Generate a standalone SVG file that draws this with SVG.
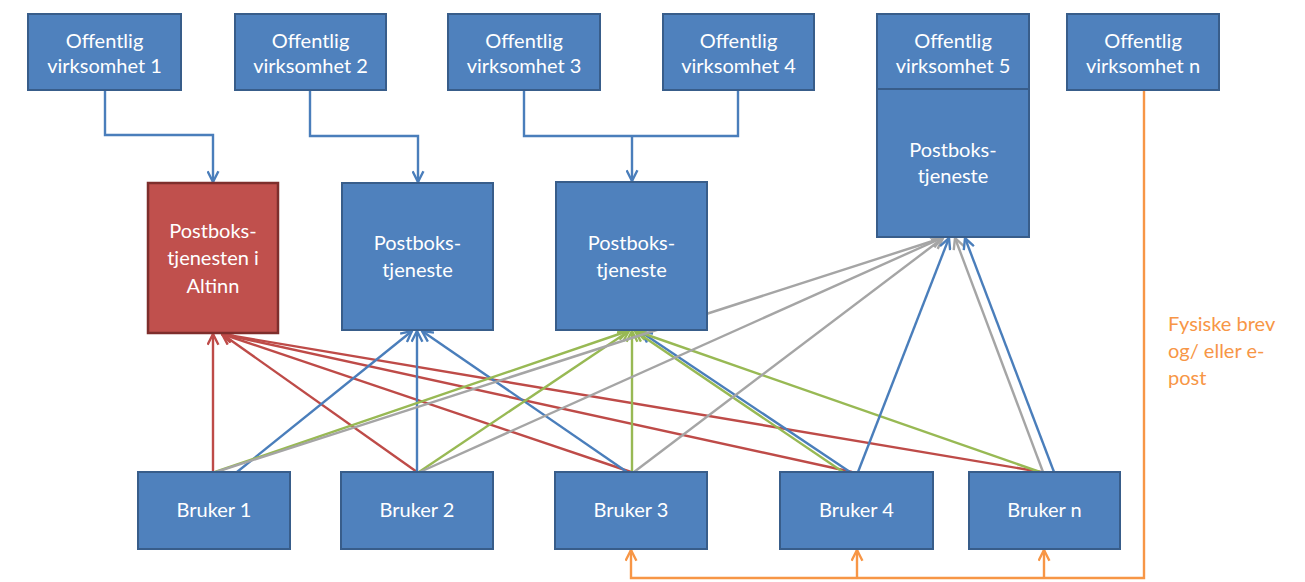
<svg xmlns="http://www.w3.org/2000/svg" width="1305" height="582" viewBox="0 0 1305 582">
<defs>
<style>
.box{fill:#4f81bd;stroke:#385d8a;stroke-width:2}
.red{fill:#c0504d;stroke:#7e2e2c;stroke-width:2.5}
.t{font-family:Lato,"Open Sans",sans-serif;font-size:20px;fill:#ffffff;text-anchor:middle}
.o{font-family:Lato,"Open Sans",sans-serif;font-size:20px;fill:#f79646}
.c{fill:none;stroke-width:2.4;stroke-linejoin:miter}
.cb{stroke:#4a7ebb}
.cr{stroke:#be4b48}
.cg{stroke:#98b954}
.cy{stroke:#a5a5a5}
.co{stroke:#f79646}
</style>
<marker id="ab" viewBox="0 0 12 12" refX="11" refY="6" markerWidth="13" markerHeight="13" markerUnits="userSpaceOnUse" orient="auto"><path d="M1,1 L11,6 L1,11" fill="none" stroke="#4a7ebb" stroke-width="2.2"/></marker>
<marker id="ar" viewBox="0 0 12 12" refX="11" refY="6" markerWidth="13" markerHeight="13" markerUnits="userSpaceOnUse" orient="auto"><path d="M1,1 L11,6 L1,11" fill="none" stroke="#be4b48" stroke-width="2.2"/></marker>
<marker id="ag" viewBox="0 0 12 12" refX="11" refY="6" markerWidth="13" markerHeight="13" markerUnits="userSpaceOnUse" orient="auto"><path d="M1,1 L11,6 L1,11" fill="none" stroke="#98b954" stroke-width="2.2"/></marker>
<marker id="ay" viewBox="0 0 12 12" refX="11" refY="6" markerWidth="13" markerHeight="13" markerUnits="userSpaceOnUse" orient="auto"><path d="M1,1 L11,6 L1,11" fill="none" stroke="#a5a5a5" stroke-width="2.2"/></marker>
<marker id="ao" viewBox="0 0 12 12" refX="11" refY="6" markerWidth="13" markerHeight="13" markerUnits="userSpaceOnUse" orient="auto"><path d="M1,1 L11,6 L1,11" fill="none" stroke="#f79646" stroke-width="2.2"/></marker>
</defs>
<rect width="1305" height="582" fill="#ffffff"/>

<g id="connectors">
<path class="c cb" d="M105,90 V135 H213 V182" marker-end="url(#ab)"/>
<path class="c cb" d="M310,90 V136 H418 V182" marker-end="url(#ab)"/>
<path class="c cb" d="M524,90 V136 H738 V90"/>
<path class="c cb" d="M632,136 V181" marker-end="url(#ab)"/>
<path class="c co" d="M1144,90 V578 H631 V550" marker-end="url(#ao)"/>
<path class="c co" d="M857,578 V550" marker-end="url(#ao)"/>
<path class="c co" d="M1044,578 V550" marker-end="url(#ao)"/>

<line class="c cr" x1="1041" y1="472" x2="222" y2="334" marker-end="url(#ar)"/>
<line class="c cr" x1="852" y1="472" x2="222" y2="334" marker-end="url(#ar)"/>
<line class="c cr" x1="631" y1="472" x2="222" y2="334" marker-end="url(#ar)"/>
<line class="c cr" x1="417" y1="472" x2="222" y2="334" marker-end="url(#ar)"/>
<line class="c cr" x1="213" y1="472" x2="213" y2="334" marker-end="url(#ar)"/>

<line class="c cb" x1="237" y1="472" x2="412" y2="331" marker-end="url(#ab)"/>
<line class="c cb" x1="417" y1="472" x2="417" y2="331" marker-end="url(#ab)"/>
<line class="c cb" x1="627" y1="472" x2="422" y2="331" marker-end="url(#ab)"/>

<line class="c cg" x1="215" y1="472" x2="628" y2="331" marker-end="url(#ag)"/>
<line class="c cg" x1="419" y1="472" x2="629" y2="331" marker-end="url(#ag)"/>
<line class="c cg" x1="632" y1="472" x2="632" y2="331" marker-end="url(#ag)"/>
<line class="c cb" x1="850" y1="472" x2="641" y2="332" marker-end="url(#ab)"/>
<line class="c cg" x1="843" y1="472" x2="635" y2="331" marker-end="url(#ag)"/>
<line class="c cg" x1="1040" y1="472" x2="636" y2="331" marker-end="url(#ag)"/>

<line class="c cy" x1="216" y1="472" x2="942" y2="238" marker-end="url(#ay)"/>
<line class="c cy" x1="420" y1="472" x2="942" y2="238" marker-end="url(#ay)"/>
<line class="c cy" x1="634" y1="472" x2="943" y2="238" marker-end="url(#ay)"/>
<line class="c cy" x1="1043" y1="472" x2="955" y2="238" marker-end="url(#ay)"/>
<line class="c cb" x1="858" y1="472" x2="949" y2="238" marker-end="url(#ab)"/>
<line class="c cb" x1="1054" y1="472" x2="965" y2="238" marker-end="url(#ab)"/>
</g>

<g id="off1"><rect class="box" x="28" y="14" width="153" height="76"/><text class="t" x="104.5" y="48">Offentlig</text><text class="t" x="104.5" y="73">virksomhet 1</text></g>
<g id="off2"><rect class="box" x="235" y="14" width="151" height="76"/><text class="t" x="310.5" y="48">Offentlig</text><text class="t" x="310.5" y="73">virksomhet 2</text></g>
<g id="off3"><rect class="box" x="448" y="14" width="152" height="76"/><text class="t" x="524" y="48">Offentlig</text><text class="t" x="524" y="73">virksomhet 3</text></g>
<g id="off4"><rect class="box" x="663" y="14" width="151" height="76"/><text class="t" x="738.5" y="48">Offentlig</text><text class="t" x="738.5" y="73">virksomhet 4</text></g>
<g id="off5"><rect class="box" x="877" y="14" width="152" height="76"/><text class="t" x="953" y="48">Offentlig</text><text class="t" x="953" y="73">virksomhet 5</text></g>
<g id="postboks5"><rect class="box" x="877" y="89" width="152" height="148"/><text class="t" x="953" y="157">Postboks-</text><text class="t" x="953" y="183">tjeneste</text></g>
<g id="offn"><rect class="box" x="1067" y="14" width="152" height="76"/><text class="t" x="1143" y="48">Offentlig</text><text class="t" x="1143" y="73">virksomhet n</text></g>

<g id="altinn"><rect class="red" x="148" y="183" width="130" height="150"/><text class="t" x="213" y="238">Postboks-</text><text class="t" x="213" y="265">tjenesten i</text><text class="t" x="213" y="293">Altinn</text></g>
<g id="postboks2"><rect class="box" x="342" y="183" width="151" height="147"/><text class="t" x="417.5" y="250">Postboks-</text><text class="t" x="417.5" y="277">tjeneste</text></g>
<g id="postboks3"><rect class="box" x="556" y="182" width="151" height="148"/><text class="t" x="631.5" y="250">Postboks-</text><text class="t" x="631.5" y="277">tjeneste</text></g>

<g id="bruker1"><rect class="box" x="138" y="472" width="152" height="77"/><text class="t" x="214" y="517">Bruker 1</text></g>
<g id="bruker2"><rect class="box" x="341" y="472" width="152" height="77"/><text class="t" x="417" y="517">Bruker 2</text></g>
<g id="bruker3"><rect class="box" x="555" y="472" width="152" height="77"/><text class="t" x="631" y="517">Bruker 3</text></g>
<g id="bruker4"><rect class="box" x="780" y="472" width="153" height="77"/><text class="t" x="856.5" y="517">Bruker 4</text></g>
<g id="brukern"><rect class="box" x="969" y="472" width="151" height="77"/><text class="t" x="1044.5" y="517">Bruker n</text></g>

<g id="label-fysiske"><text class="o" x="1168" y="331">Fysiske brev</text><text class="o" x="1168" y="358">og/ eller e-</text><text class="o" x="1168" y="385">post</text></g>
</svg>
